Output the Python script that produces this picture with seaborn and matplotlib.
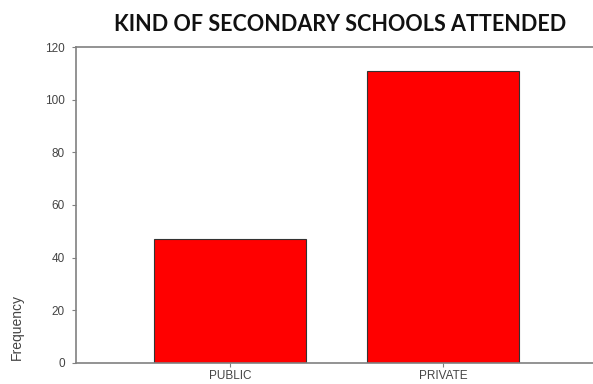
import seaborn as sns
import matplotlib.pyplot as plt
import pandas as pd

# data
school_kind = ['PUBLIC', 'PRIVATE']
frequency = [47, 111]

df = pd.DataFrame({'kind': school_kind, 'freq': frequency})

sns.set_style('white')
plt.rcParams['font.family'] = ['Liberation Sans', 'DejaVu Sans']

fig = plt.figure(figsize=(5.93, 3.84), dpi=100)
ax = fig.add_axes([0.128, 0.0547, 0.872, 0.8229])

sns.barplot(data=df, x='kind', y='freq', color='#ff0000', saturation=1,
            width=0.714, edgecolor='#333333', linewidth=0.8, ax=ax)

ax.set_xlim(-0.723, 1.705)
ax.set_ylim(0, 120)
ax.set_yticks(range(0, 121, 20))

for side in ['left', 'top', 'bottom']:
    ax.spines[side].set_color('#808080')
    ax.spines[side].set_linewidth(1.2)
ax.spines['right'].set_visible(False)

ax.tick_params(axis='both', direction='out', length=3, width=0.8, color='#808080',
               labelsize=8.5, labelcolor='#444444', pad=2, left=True, bottom=True)
ax.tick_params(axis='y', pad=5)
ax.set_xlabel('')
ax.set_ylabel('Frequency', fontsize=10, color='#444444')
ax.yaxis.set_label_coords(-0.1, 0.114)

fig.text(0.573, 0.935, 'KIND OF SECONDARY SCHOOLS ATTENDED', ha='center', va='center',
         fontsize=15.5, fontweight='bold', family=['Lato', 'DejaVu Sans'], color='#111111')

fig.savefig('out.png', dpi=100)
